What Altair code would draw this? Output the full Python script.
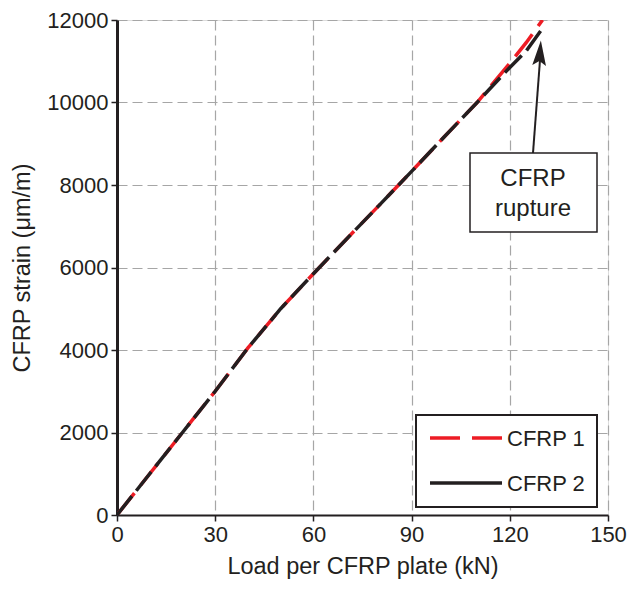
import altair as alt
import pandas as pd

# Data
load_1 = [0, 10, 20, 30, 40, 50, 60, 70, 80, 90, 100, 110, 120, 125, 130]
strain_cfrp1 = [0, 1000, 2000, 3000, 4050, 5000, 5850, 6680, 7500, 8330, 9170, 10000, 10950, 11450, 12000]
load_2 = [0, 10, 20, 30, 40, 50, 60, 70, 80, 90, 100, 110, 120, 125, 130]
strain_cfrp2 = [0, 1000, 2000, 3000, 4050, 5000, 5850, 6680, 7500, 8330, 9170, 10000, 10850, 11250, 11800]

x_ticks = [0, 30, 60, 90, 120, 150]
y_ticks = [0, 2000, 4000, 6000, 8000, 10000, 12000]

series_names = ["CFRP 1", "CFRP 2"]
series_colors = ["#ed1c24", "#231f20"]

df1 = pd.DataFrame({"load": load_1, "strain": strain_cfrp1})
df2 = pd.DataFrame({"load": load_2, "strain": strain_cfrp2})

FONT = "Liberation Sans"
W, H = 491, 495

common_axis = dict(grid=True, gridDash=[10, 5], gridColor="#a6a6a6", gridWidth=1.2,
                   domainColor="#231f20", tickColor="#231f20", tickSize=6, tickWidth=1.5,
                   labelFontSize=22, titleFontSize=23.5, labelFont=FONT, titleFont=FONT,
                   labelColor="#231f20", titleColor="#231f20", titleFontWeight="normal",
                   labelFlush=False, labelOverlap=False)

xenc = alt.X("load:Q", scale=alt.Scale(domain=[0, 150], nice=False),
             axis=alt.Axis(values=x_ticks, title="Load per CFRP plate (kN)", format="d",
                           domainWidth=2, labelPadding=3, titlePadding=9, **common_axis))
yenc = alt.Y("strain:Q", scale=alt.Scale(domain=[0, 12000], nice=False),
             axis=alt.Axis(values=y_ticks, title="CFRP strain (μm/m)", format="d",
                           domainWidth=3, labelPadding=3, titlePadding=12, **common_axis))

red = alt.Chart(df1).mark_line(strokeWidth=3.5, strokeDash=[28, 10], color=series_colors[0],
                               clip=True).encode(x=xenc, y=yenc)
black = alt.Chart(df2).mark_line(strokeWidth=3.5, strokeDash=[24, 7], color=series_colors[1],
                                 clip=True).encode(x=xenc, y=yenc)

one = pd.DataFrame({"a": [0]})

# Legend box
leg_box = alt.Chart(one).mark_rect(fill="white", stroke="#231f20", strokeWidth=2).encode(
    x=alt.value(299), x2=alt.value(480), y=alt.value(395), y2=alt.value(487))
leg_red = alt.Chart(one).mark_rule(color=series_colors[0], strokeWidth=3.5, strokeDash=[30, 12]).encode(
    x=alt.value(313), x2=alt.value(385), y=alt.value(418))
leg_black = alt.Chart(one).mark_rule(color=series_colors[1], strokeWidth=3.5).encode(
    x=alt.value(313), x2=alt.value(385), y=alt.value(463))
leg_t1 = alt.Chart(one).mark_text(text=series_names[0], font=FONT, fontSize=22, align="left",
                                  baseline="middle", color="#231f20").encode(x=alt.value(390), y=alt.value(419))
leg_t2 = alt.Chart(one).mark_text(text=series_names[1], font=FONT, fontSize=22, align="left",
                                  baseline="middle", color="#231f20").encode(x=alt.value(390), y=alt.value(464))

# Annotation
ann_box = alt.Chart(one).mark_rect(fill="white", stroke="#231f20", strokeWidth=1.5).encode(
    x=alt.value(353), x2=alt.value(480), y=alt.value(133), y2=alt.value(212))
ann_t1 = alt.Chart(one).mark_text(text="CFRP", font=FONT, fontSize=24, align="center",
                                  baseline="middle", color="#231f20").encode(x=alt.value(416), y=alt.value(159))
ann_t2 = alt.Chart(one).mark_text(text="rupture", font=FONT, fontSize=24, align="center",
                                  baseline="middle", color="#231f20").encode(x=alt.value(416), y=alt.value(189))
arrow_line = alt.Chart(one).mark_rule(color="#231f20", strokeWidth=2).encode(
    x=alt.value(416), x2=alt.value(423), y=alt.value(133), y2=alt.value(40))
arrow_head = alt.Chart(one).mark_point(shape="M0,-1L0.55,1L0,0.65L-0.55,1Z", filled=True, opacity=1,
                                       color="#231f20", size=625, angle=4).encode(
    x=alt.value(423), y=alt.value(33))

chart = alt.layer(red, black, ann_box, ann_t1, ann_t2, arrow_line, arrow_head,
                  leg_box, leg_red, leg_black, leg_t1, leg_t2).properties(
    width=W, height=H,
    autosize=alt.AutoSizeParams(type="none"),
    padding={"left": 117, "top": 20, "right": 21, "bottom": 75},
).configure_view(stroke="#231f20", strokeWidth=2).configure(background="white")

chart.save("out.html", embed_options={"renderer": "svg", "actions": False})
